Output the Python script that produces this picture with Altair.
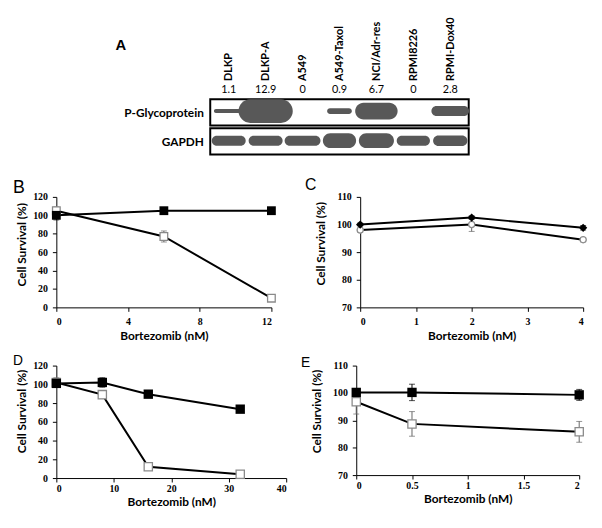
import json
import altair as alt
import pandas as pd

TEXT_FONT = "Lato"
TICK_FONT = "Liberation Serif"
LETTER_FONT = "Liberation Sans"

# ---------------- Panel A (western blot) ----------------
lanes = ["DLKP", "DLKP-A", "A549", "A549-Taxol", "NCI/Adr-res", "RPMI8226", "RPMI-Dox40"]
pgp_ratio = ["1.1", "12.9", "0", "0.9", "6.7", "0", "2.8"]
blot_rows = ["P-Glycoprotein", "GAPDH"]
# apparent band width (in lanes) and thickness (in row heights) read from the blot
pgp_band_w = [0.8, 1.47, 0.0, 0.67, 1.15, 0.0, 1.02]
pgp_band_t = [0.15, 0.9, 0.0, 0.22, 0.64, 0.0, 0.38]
gapdh_band_w = [0.92, 0.92, 0.97, 0.9, 0.95, 0.9, 0.93]
gapdh_band_t = [0.38, 0.38, 0.38, 0.56, 0.56, 0.38, 0.4]

# ---------------- Panels B-E (cell survival) ----------------
b_dose = [0, 6, 12]
b_filled = [100, 105, 105]
b_filled_err = [5, 1.5, 1.5]
b_open = [105, 77, 10]
b_open_err = [4, 6, 2]

c_dose = [0, 2, 4]
c_filled = [100, 102.5, 98.8]
c_filled_err = [0.5, 0.6, 0.8]
c_open = [98, 100, 94.5]
c_open_err = [0.8, 2.5, 0.8]

d_dose = [0, 8, 16, 32]
d_filled = [101, 102, 89.5, 73.5]
d_filled_err = [4, 5, 2.5, 3.5]
d_open = [102, 89, 12, 4]
d_open_err = [5, 4, 2, 1]

e_dose = [0, 0.5, 2]
e_filled = [100.2, 100.2, 99.3]
e_filled_err = [1.2, 3, 2]
e_open = [96.8, 88.7, 85.8]
e_open_err = [4.5, 4.5, 3.8]

# ======================================================
# Blot chart (its plot area starts where panel B's does; the blot box sits to the right)
bands = []
for r, (ws, ts) in enumerate([(pgp_band_w, pgp_band_t), (gapdh_band_w, gapdh_band_t)]):
    for i in range(len(lanes)):
        if ws[i] > 0:
            bands.append({"lane": i, "row": r, "w": ws[i], "t": ts[i]})
bands_df = pd.DataFrame(bands)
frames_df = pd.DataFrame({"row": [0, 1], "name": blot_rows})
ratio_df = pd.DataFrame({"lane": list(range(len(lanes))), "ratio": pgp_ratio})

lane_expr = "%s[datum.value]" % json.dumps(lanes)
row_expr = "datum.value < 1 ? %s : %s" % (json.dumps(blot_rows[0]), json.dumps(blot_rows[1]))

BW, BH = 418, 56
BOX_PX = 262.0
lane_px = BOX_PX / len(lanes)
x_lo = -0.5 - (BW - BOX_PX) / lane_px
xs = alt.Scale(domain=[x_lo, 6.5], nice=False, zero=False)
ys = alt.Scale(domain=[0, 2.1], nice=False, zero=False, reverse=True)
x_axis = alt.Axis(orient="top", values=list(range(len(lanes))), labelExpr=lane_expr,
                  labelAngle=-90, labelAlign="left", labelBaseline="middle",
                  labelFont=TEXT_FONT, labelFontWeight="bold", labelFontSize=11,
                  labelPadding=19, ticks=False, domain=False, title=None)
y_axis = alt.Axis(values=[0.5, 1.6], labelExpr=row_expr, labelFont=TEXT_FONT,
                  labelFontWeight="bold", labelFontSize=12, labelPadding=7,
                  ticks=False, domain=False, title=None, offset=-(BW - BOX_PX))

frame = alt.Chart(frames_df).transform_calculate(
    x0="-0.5", x1="6.5", y0="datum.row * 1.1", y1="datum.row * 1.1 + 1"
).mark_rect(fill="white", stroke="black", strokeWidth=2).encode(
    x=alt.X("x0:Q", scale=xs, axis=x_axis), x2="x1:Q",
    y=alt.Y("y0:Q", scale=ys, axis=y_axis), y2="y1:Q",
)
band = alt.Chart(bands_df).transform_calculate(
    yc="datum.row == 0 ? 0.45 : 1.575",
    x0="datum.lane - datum.w / 2", x1="datum.lane + datum.w / 2",
    y0="datum.yc - datum.t / 2", y1="datum.yc + datum.t / 2",
).mark_rect(fill="#585858", cornerRadius=12).encode(
    x=alt.X("x0:Q", scale=xs, axis=x_axis), x2="x1:Q",
    y=alt.Y("y0:Q", scale=ys, axis=y_axis), y2="y1:Q",
)
ratios = alt.Chart(ratio_df).mark_text(font=TEXT_FONT, fontSize=11, color="black").encode(
    x=alt.X("lane:Q", scale=xs, axis=x_axis), y=alt.value(-9), text="ratio:N"
)
letter_df = pd.DataFrame({"t": ["A"]})
letter_a = alt.Chart(letter_df).mark_text(
    font=LETTER_FONT, fontSize=15, fontWeight="bold", align="left", baseline="alphabetic", color="black"
).encode(x=alt.value(60), y=alt.value(-50), text="t:N")
# invisible anchor so the blot's left extent equals the panels' (keeps the rows aligned)
anchor = alt.Chart(letter_df).mark_text(
    font=LETTER_FONT, fontSize=15, align="left", baseline="alphabetic", opacity=0
).encode(x=alt.value(-44), y=alt.value(40), text="t:N")

blot = alt.layer(frame, band, ratios, letter_a, anchor).properties(width=BW, height=BH)


# ======================================================
def panel(dose, filled, filled_err, opn, opn_err, letter, letter_dx, letter_y, letter_size,
          xdom, xvals, ydom, yvals, w, h, f_shape, o_shape, f_size, o_size,
          ytitle_pad, ytitle_y, xlabel_pad, xtitle_pad):
    rows = []
    for s, vals, errs in (("filled", filled, filled_err), ("open", opn, opn_err)):
        for x, v, e in zip(dose, vals, errs):
            rows.append({"x": x, "y": v, "lo": v - e, "hi": v + e, "s": s})
    df = pd.DataFrame(rows)
    xsc = alt.Scale(domain=xdom, nice=False, zero=False)
    ysc = alt.Scale(domain=ydom, nice=False, zero=False)
    xa = alt.Axis(values=xvals, labelExpr="'' + datum.value", title="Bortezomib (nM)",
                  labelPadding=xlabel_pad, titlePadding=xtitle_pad)
    ya = alt.Axis(values=yvals, title="Cell Survival (%)", labelPadding=5,
                  titlePadding=ytitle_pad, titleY=ytitle_y)
    X = alt.X("x:Q", scale=xsc, axis=xa)

    base = alt.Chart(df)
    layers = []
    for s in ("open", "filled"):
        sub = base.transform_filter(alt.datum.s == s)
        layers.append(sub.mark_line(color="black", strokeWidth=2).encode(
            x=X, y=alt.Y("y:Q", scale=ysc, axis=ya)))
    for s, col in (("open", "#666666"), ("filled", "black")):
        sub = base.transform_filter(alt.datum.s == s)
        layers.append(sub.mark_rule(color=col, strokeWidth=1).encode(
            x=X, y=alt.Y("lo:Q", scale=ysc, axis=ya), y2="hi:Q"))
        for f in ("lo", "hi"):
            layers.append(sub.mark_tick(orient="horizontal", size=6, thickness=1, color=col).encode(
                x=X, y=alt.Y(f + ":Q", scale=ysc, axis=ya)))
    layers.append(base.transform_filter(alt.datum.s == "open").mark_point(
        shape=o_shape, size=o_size, filled=True, fill="white", stroke="#8a8a8a", strokeWidth=1.3, opacity=1
    ).encode(x=X, y=alt.Y("y:Q", scale=ysc, axis=ya)))
    layers.append(base.transform_filter(alt.datum.s == "filled").mark_point(
        shape=f_shape, size=f_size, filled=True, color="black", opacity=1
    ).encode(x=X, y=alt.Y("y:Q", scale=ysc, axis=ya)))
    layers.append(alt.Chart(pd.DataFrame({"t": [letter]})).mark_text(
        font=LETTER_FONT, fontSize=letter_size, align="left", baseline="alphabetic", color="black"
    ).encode(x=alt.value(letter_dx), y=alt.value(letter_y), text="t:N"))
    return alt.layer(*layers).properties(width=w, height=h)


pB = panel(b_dose, b_filled, b_filled_err, b_open, b_open_err, "B", -44, -4, 18, [0, 12], [0, 4, 8, 12],
           [0, 120], [0, 20, 40, 60, 80, 100, 120], 218, 112, "square", "square", 80, 60, 4, 48, 5, 5)
pC = panel(c_dose, c_filled, c_filled_err, c_open, c_open_err, "C", -56, -7, 16, [0, 4], [0, 1, 2, 3, 4],
           [70, 110], [70, 80, 90, 100, 110], 226, 112, "diamond", "circle", 70, 40, 9, 47, 5, 5)
pD = panel(d_dose, d_filled, d_filled_err, d_open, d_open_err, "D", -44, -1, 14, [0, 40], [0, 10, 20, 30, 40],
           [0, 120], [0, 20, 40, 60, 80, 100, 120], 233, 114, "square", "square", 90, 70, 4, 46, 2, 3)
pE = panel(e_dose, e_filled, e_filled_err, e_open, e_open_err, "E", -56, 1, 14, [0, 2], [0, 0.5, 1, 1.5, 2],
           [70, 110], [70, 80, 90, 100, 110], 226, 111, "square", "square", 90, 70, 9, 46, 2, 3)

row2 = alt.hconcat(pB, pC, spacing=27)
row3 = alt.hconcat(pD, pE, spacing=14)

# the gap between the two rows of panels is smaller than the gap under the blot
chart = alt.vconcat(blot, alt.vconcat(row2, row3, spacing=12), spacing=22).configure_view(
    stroke=None
).configure_axis(
    grid=False, domainColor="black", tickColor="black", labelColor="black", titleColor="black",
    labelFont=TICK_FONT, labelFontWeight="bold", labelFontSize=10,
    titleFont=TEXT_FONT, titleFontSize=12, titleFontWeight="bold", tickSize=4, domainWidth=1,
)

chart.save("out.html", embed_options={"renderer": "svg", "actions": False})
